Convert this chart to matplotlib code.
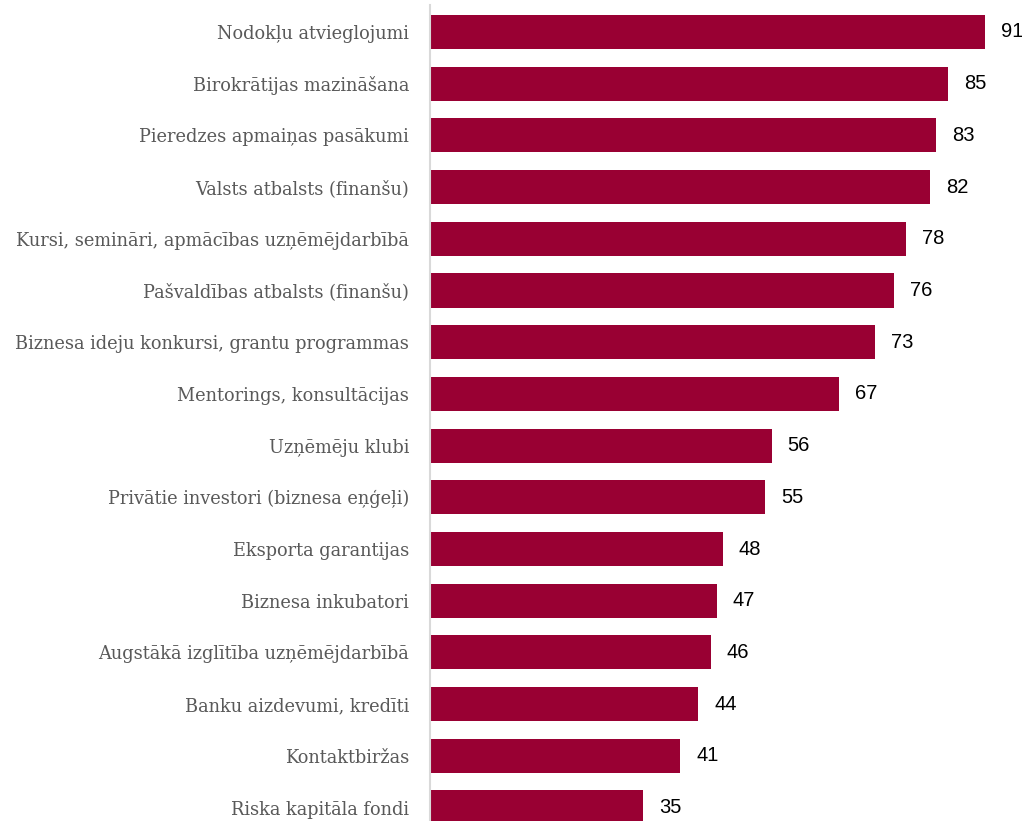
import matplotlib
matplotlib.use("Agg")
import matplotlib.pyplot as plt

categories = [
    "Nodokļu atvieglojumi",
    "Birokrātijas mazināšana",
    "Pieredzes apmaiņas pasākumi",
    "Valsts atbalsts (finanšu)",
    "Kursi, semināri, apmācības uzņēmējdarbībā",
    "Pašvaldības atbalsts (finanšu)",
    "Biznesa ideju konkursi, grantu programmas",
    "Mentorings, konsultācijas",
    "Uzņēmēju klubi",
    "Privātie investori (biznesa eņģeļi)",
    "Eksporta garantijas",
    "Biznesa inkubatori",
    "Augstākā izglītība uzņēmējdarbībā",
    "Banku aizdevumi, kredīti",
    "Kontaktbiržas",
    "Riska kapitāla fondi",
]
values = [91, 85, 83, 82, 78, 76, 73, 67, 56, 55, 48, 47, 46, 44, 41, 35]

W, H = 1022, 821
fig = plt.figure(figsize=(W / 100, H / 100), dpi=100)
ax = fig.add_axes([430 / W, 0, 1 - 430 / W, 1 - 5 / H])

ypos = list(range(len(categories)))
ax.barh(ypos, values, height=0.66, color="#990033", zorder=2)

ax.set_xlim(0, (W - 430) / (555 / 91))
ax.set_ylim((H - 32) / 51.7, -27 / 51.7)

ax.set_yticks(ypos)
ax.set_yticklabels(categories, fontfamily="DejaVu Serif", fontsize=12.8, color="#595959")
ax.tick_params(axis="y", length=0, pad=15)
ax.set_xticks([])

for s in ["top", "right", "bottom"]:
    ax.spines[s].set_visible(False)
ax.spines["left"].set_color("#d9d9d9")
ax.spines["left"].set_linewidth(1.5)

for y, v in zip(ypos, values):
    ax.annotate(str(v), (v, y), xytext=(16, 0), textcoords="offset pixels",
                ha="left", va="center", fontsize=14.5,
                fontfamily="Liberation Sans", color="#000000")

fig.savefig("out.png", dpi=100)
